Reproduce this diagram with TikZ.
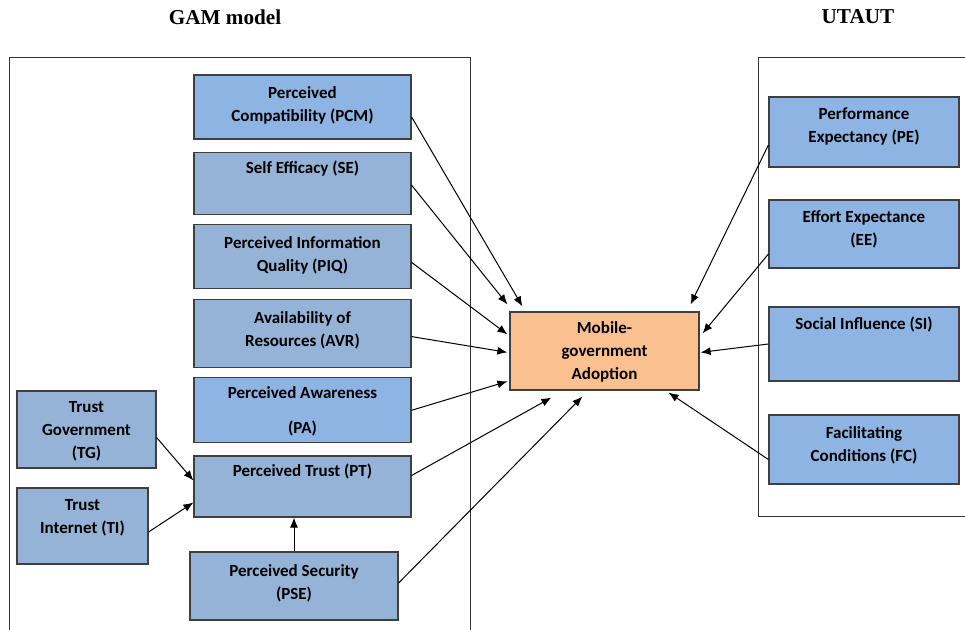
\documentclass[tikz,border=0pt]{standalone}
\usepackage{fontspec}
\setmainfont{Carlito}
\newfontfamily\headfont{Liberation Serif}
\usepackage{tikz}
\usepackage{xcolor}
\usetikzlibrary{arrows.meta,calc,positioning}
\definecolor{gamblue}{HTML}{95B3D7}
\definecolor{keyblue}{HTML}{8DB4E2}
\definecolor{adoptorange}{HTML}{FAC090}
\definecolor{edgegray}{HTML}{3F3F3F}

\begin{document}
\begin{tikzpicture}[
    x=0.5pt, y=-0.5pt,
    font=\fontsize{8.5}{11.5}\selectfont\bfseries,
    >={Latex[length=5pt,width=4pt]},
    box/.style={rectangle, draw=edgegray, line width=0.6pt, align=center, inner sep=2pt, text depth=4pt},
    colbox/.style={box, fill=gamblue, minimum width=108.5pt, minimum height=32pt},
    utbox/.style={box, fill=keyblue, minimum width=95pt},
    frame/.style={draw=black!80, line width=0.5pt},
    flow/.style={->, line width=0.5pt},
    title/.style={font=\headfont\fontsize{10.6}{12}\selectfont\bfseries}
  ]
    \clip (0,0) rectangle (965,630);

    % headings and the two model frames
    \node[title] (gamtitle) at (225,17) {GAM model};
    \node[title] (utauttitle) at (858,17) {UTAUT};
    \draw[frame] (9,640) |- (470,58) -- (470,640);
    \draw[frame] (975,58) -| (758,517) -- (975,517);

    % GAM constructs
    \node[colbox, fill=keyblue, text depth=3pt] (pcm) at (302.5,107) {Perceived\\Compatibility (PCM)};
    \node[colbox, text depth=5pt, minimum height=31pt, below=6pt of pcm] (se) {Self Efficacy (SE)\\\mbox{}};
    \node[colbox, text depth=2pt, below=4.5pt of se] (piq) {Perceived Information\\Quality (PIQ)};
    \node[colbox, text depth=5pt, minimum height=34pt, below=5pt of piq] (avr) {Availability of\\Resources (AVR)};
    \node[colbox, fill=keyblue, text depth=0pt, minimum height=32.5pt, below=4.5pt of avr] (pa) {Perceived Awareness\\[6pt](PA)};
    \node[colbox, text depth=5pt, minimum height=30.5pt, below=6pt of pa] (pt) {Perceived Trust (PT)\\\mbox{}};
    \node[box, fill=gamblue, text depth=0pt, minimum width=69.5pt, minimum height=38.5pt] (tg) at (86.5,429.5) {Trust\\Government\\(TG)};
    \node[box, fill=gamblue, text depth=10pt, minimum width=65.5pt, minimum height=38pt] (ti) at (82.5,526) {Trust\\Internet (TI)};
    \node[box, fill=gamblue, minimum width=104pt, minimum height=34pt] (pse) at (294,586) {Perceived Security\\(PSE)};

    % dependent construct
    \node[box, fill=adoptorange, text depth=0pt, minimum width=94.5pt, minimum height=39pt] (mga) at (604.5,351) {Mobile-\\government\\Adoption};

    % UTAUT constructs
    \node[utbox, text depth=7pt, minimum height=35pt] (pe) at (864,132) {Performance\\Expectancy (PE)};
    \node[utbox, text depth=5.5pt, minimum height=34pt] (ee) at (864,234) {Effort Expectance\\(EE)};
    \node[utbox, text depth=9pt, minimum height=37pt] (si) at (864,344) {Social Influence (SI)\\\mbox{}};
    \node[utbox, text depth=5pt, minimum height=34.5pt] (fc) at (864,449.5) {Facilitating\\Conditions (FC)};

    % paths into adoption
    \draw[flow] ($(pcm.east)+(0,10)$) -- ($(mga.north west)+(13,-5)$);
    \draw[flow] ($(se.east)+(0,2)$) -- ($(mga.north west)+(-2,-7)$);
    \draw[flow] ($(piq.east)+(0,6)$) -- ($(mga.north west)+(-2,23)$);
    \draw[flow] ($(avr.east)+(0,3)$) -- ($(mga.north west)+(-2,41)$);
    \draw[flow] (pa.east) -- ($(mga.north west)+(-2,70)$);
    \draw[flow] ($(pt.east)+(0,-11)$) -- ($(mga.south west)+(42,7)$);
    \draw[flow] ($(pse.east)+(0,-3)$) -- ($(mga.south west)+(73,6)$);
    \draw[flow] ($(pe.west)+(0,13)$) -- ($(mga.north east)+(-9,-7)$);
    \draw[flow] ($(ee.west)+(0,20)$) -- ($(mga.north east)+(3,22)$);
    \draw[flow] (si.west) -- ($(mga.north east)+(1,41)$);
    \draw[flow] ($(fc.west)+(0,10)$) -- ($(mga.south east)+(-31,2)$);

    % antecedents of trust
    \draw[flow] ($(tg.east)+(0,8)$) -- ($(pt.west)+(0,-6)$);
    \draw[flow] ($(ti.east)+(0,6)$) -- ($(pt.west)+(0,16)$);
    \draw[flow] (pse.north) -- (pse.north |- pt.south);
  \end{tikzpicture}
\end{document}
